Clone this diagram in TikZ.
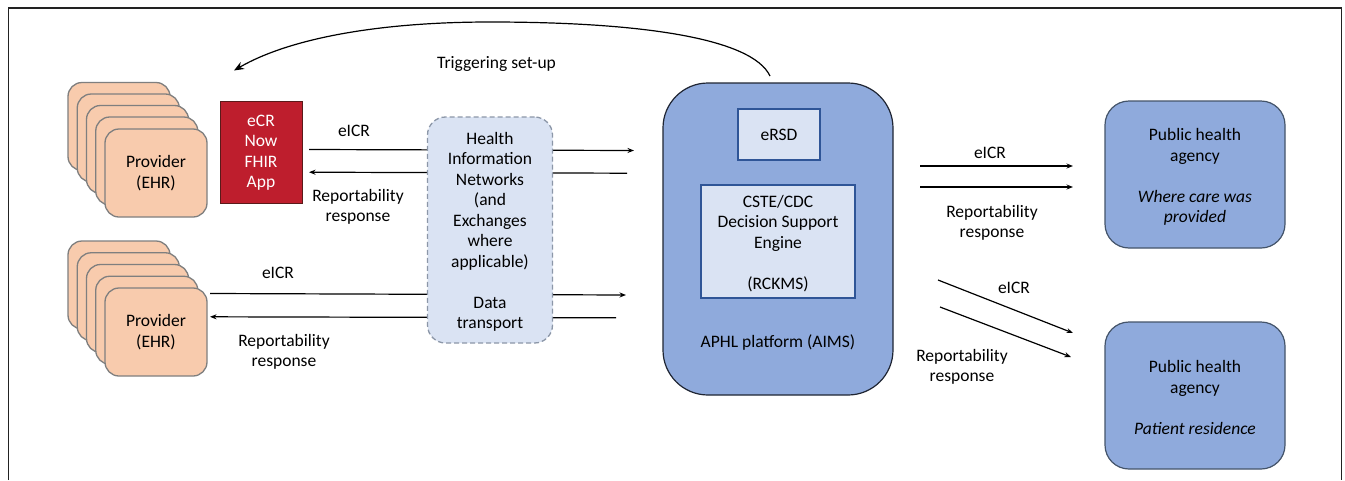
\documentclass[tikz,border=0pt]{standalone}
\usepackage{fontspec}
\setmainfont{Carlito}
\usetikzlibrary{arrows.meta,calc}
\definecolor{provfill}{HTML}{F8CBAD}
\definecolor{provdraw}{HTML}{7F7F7F}
\definecolor{ecrred}{HTML}{BE1E2D}
\definecolor{ecrdraw}{HTML}{5A1A1A}
\definecolor{lightblue}{HTML}{DAE3F3}
\definecolor{hindraw}{HTML}{8C97A8}
\definecolor{midblue}{HTML}{8FAADC}
\definecolor{aimsdraw}{HTML}{1F2533}
\definecolor{innerdraw}{HTML}{2F5597}
\definecolor{phadraw}{HTML}{44546A}
\definecolor{framecol}{HTML}{222222}
\begin{document}
\begin{tikzpicture}[x=1pt,y=-1pt,
  every node/.style={font=\fontsize{17.5}{20.5}\selectfont, inner sep=0pt, align=center},
  prov/.style={rectangle, rounded corners=14pt, draw=provdraw, line width=1.3pt, fill=provfill, minimum width=102pt, minimum height=88pt},
  ecrbox/.style={rectangle, draw=ecrdraw, line width=1pt, fill=ecrred, text=white, minimum width=82pt, minimum height=102pt},
  hinbox/.style={rectangle, rounded corners=18pt, dashed, dash pattern=on 5pt off 3pt, draw=hindraw, line width=1.3pt, fill=lightblue, minimum width=125pt, minimum height=226pt},
  aimsbox/.style={rectangle, rounded corners=45pt, draw=aimsdraw, line width=1.2pt, fill=midblue, minimum width=230pt, minimum height=312pt},
  innerbox/.style={rectangle, draw=innerdraw, line width=1.3pt, fill=lightblue},
  phabox/.style={rectangle, rounded corners=24pt, draw=phadraw, line width=1.2pt, fill=midblue, minimum width=180pt, minimum height=147pt},
  conn/.style={line width=1.2pt, -{Stealth[length=6.5pt,width=5pt]}},
  lbl/.style={text=black}
]
\useasboundingbox (0,0) rectangle (1345,480);
\fill[white] (0,0) rectangle (1345,480);
% outer frame
\draw[framecol, line width=1.5pt] (8.3,480) -- (8.3,8) -- (1341.5,8) -- (1341.5,480);

% upper provider stack
\node[prov] (pua) at (119,126.5) {};
\node[prov] (pub) at (128.25,138) {};
\node[prov] (puc) at (137.5,149.5) {};
\node[prov] (pud) at (146.75,161) {};
\node[prov] (pue) at (156,173) {Provider\\(EHR)};
% lower provider stack
\node[prov] (pla) at (119,285) {};
\node[prov] (plb) at (128.25,296.75) {};
\node[prov] (plc) at (137.5,308.5) {};
\node[prov] (pld) at (146.75,320.25) {};
\node[prov] (ple) at (156,332) {Provider\\(EHR)};

% eCR app
\node[ecrbox] (ecr) at (261,152.5) {eCR\\Now\\FHIR\\App};

% arrow end coordinates
\coordinate (u1s) at (309,149.5);
\coordinate (u1e) at (634,150.5);
\coordinate (u2s) at (627,173.2);
\coordinate (u2e) at (309,172.2);
\coordinate (l1s) at (210,293.5);
\coordinate (l1e) at (626,295);
\coordinate (l2s) at (616,317.8);
\coordinate (l2e) at (210,316.8);

\draw[conn] (u1s) -- (u1e);
\draw[conn] (u2s) -- (u2e);
\draw[conn] (l1s) -- (l1e);
\draw[conn] (l2s) -- (l2e);

% HIN box
\node[hinbox] (hin) at (490,230) {};
\node[lbl] (hintxt) at (490,232) {Health\\Information\\Networks\\(and\\Exchanges\\where\\applicable)\\[20.5pt]Data\\transport};

% labels left
\node[lbl] (lu1) at (354,131) {eICR};
\node[lbl] (lu2) at (358,207) {Reportability\\response};
\node[lbl] (ll1) at (278,273) {eICR};
\node[lbl] (ll2) at (284,352) {Reportability\\response};

% AIMS
\node[aimsbox] (aims) at (778,239) {};
\node[innerbox, minimum width=82pt, minimum height=51pt] (ersd) at (779,134.5) {eRSD};
\node[innerbox, minimum width=154pt, minimum height=113pt] (cste) at (778,241.5) {};
\node[lbl] (cstetxt) at (778,243.5) {CSTE/CDC\\Decision Support\\Engine\\[20.5pt](RCKMS)};
\node[lbl] (aimslbl) at (778,343) {APHL platform (AIMS)};

% triggering curve
\coordinate (trs) at (770,76);
\coordinate (tre) at (234,70.5);
\draw[line width=1.2pt, -{Stealth[length=10pt,width=8pt]}] (trs) .. controls (752,38) and (640,22) .. (490,22) .. controls (380,22) and (290,38) .. (tre);
\node[lbl] (trl) at (496.5,64) {Triggering set-up};

% public health agencies
\node[phabox] (ph1) at (1195,174.5) {};
\node[lbl] (ph1txt) at (1195,177) {Public health\\agency\\[20.5pt]\textit{Where care was}\\\textit{provided}};
\node[phabox] (ph2) at (1195,395.5) {};
\node[lbl] (ph2txt) at (1195,397.5) {Public health\\agency\\[20.5pt]\textit{Patient residence}};

% right arrows
\coordinate (r1s) at (920,166);
\coordinate (r1e) at (1073,166);
\coordinate (r2s) at (920,187);
\coordinate (r2e) at (1073,187);
\coordinate (d1s) at (938,280);
\coordinate (d1e) at (1073,333);
\coordinate (d2s) at (940,307);
\coordinate (d2e) at (1071,357);
\draw[conn] (r1s) -- (r1e);
\draw[conn] (r2s) -- (r2e);
\draw[conn] (d1s) -- (d1e);
\draw[conn] (d2s) -- (d2e);

\node[lbl] (rl1) at (990,153) {eICR};
\node[lbl] (rl2) at (992,223) {Reportability\\response};
\node[lbl] (dl1) at (1014,288) {eICR};
\node[lbl] (dl2) at (962,367) {Reportability\\response};
\end{tikzpicture}
\end{document}
